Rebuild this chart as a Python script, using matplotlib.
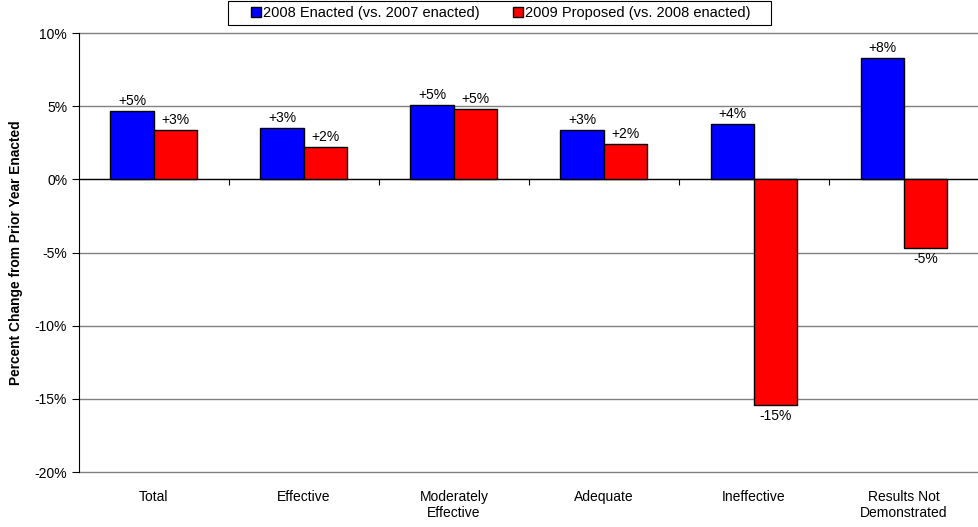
import numpy as np
import matplotlib
matplotlib.use('Agg')
import matplotlib.pyplot as plt
from matplotlib.patches import Patch, Rectangle

plt.rcParams['font.family'] = ['Liberation Sans', 'DejaVu Sans']

# data (percent change)
categories = ['Total', 'Effective', 'Moderately\nEffective', 'Adequate', 'Ineffective', 'Results Not\nDemonstrated']
enacted_2008 = [4.7, 3.5, 5.1, 3.4, 3.8, 8.3]
proposed_2009 = [3.4, 2.2, 4.8, 2.4, -15.4, -4.7]
labels_2008 = ['+5%', '+3%', '+5%', '+3%', '+4%', '+8%']
labels_2009 = ['+3%', '+2%', '+5%', '+2%', '-15%', '-5%']
series_names = ['2008 Enacted (vs. 2007 enacted)', '2009 Proposed (vs. 2008 enacted)']
yticks = [-20, -15, -10, -5, 0, 5, 10]

W, H = 979, 527
fig = plt.figure(figsize=(W / 100, H / 100), dpi=100)
ax = fig.add_axes([79 / W, 1 - 472 / H, 900 / W, 439 / H])

x = np.arange(len(categories)) + 0.5
w = 0.29

ax.set_xlim(0, len(categories))
ax.set_ylim(-20, 10)

for yv in yticks:
    ax.axhline(yv, color='#808080', lw=1, zorder=0, clip_on=False)

b1 = ax.bar(x - w / 2, enacted_2008, w, color='#0000ff', edgecolor='black', lw=1, zorder=2)
b2 = ax.bar(x + w / 2, proposed_2009, w, color='#ff0000', edgecolor='black', lw=1, zorder=2)

def put_labels(bars, vals, texts):
    for b, v, t in zip(bars, vals, texts):
        cx = b.get_x() + b.get_width() / 2
        if v >= 0:
            ax.annotate(t, (cx, v), xytext=(0, 2), textcoords='offset points',
                        ha='center', va='bottom', fontsize=10)
        else:
            ax.annotate(t, (cx, v), xytext=(0, -3), textcoords='offset points',
                        ha='center', va='top', fontsize=10)

put_labels(b1, enacted_2008, labels_2008)
put_labels(b2, proposed_2009, labels_2009)

# zero axis with category tick marks
ax.axhline(0, color='black', lw=0.9, zorder=1)
ax.spines['bottom'].set_position(('data', 0))
ax.spines['bottom'].set_visible(False)
ax.set_xticks(np.arange(1, len(categories)))
ax.set_xticklabels([])
ax.tick_params(axis='x', direction='out', length=4, width=0.8, color='black')
for s in ['top', 'right']:
    ax.spines[s].set_visible(False)
ax.spines['left'].set_color('black')
ax.spines['left'].set_zorder(3)

ax.set_yticks(yticks)
ax.set_yticklabels([f'{v}%' for v in yticks], fontsize=10)
ax.tick_params(axis='y', direction='out', length=5, width=0.8)
ax.set_ylabel('Percent Change from Prior Year Enacted', fontsize=9.9, fontweight='bold', labelpad=8)

trans = ax.get_xaxis_transform()
for xi, c in zip(x, categories):
    ax.text(xi, -0.04, c, transform=trans, ha='center', va='top', fontsize=10, linespacing=1.2)

# legend with a hand-drawn frame to get the wide padding
handles = [Patch(facecolor='#0000ff', edgecolor='black', label=series_names[0]),
           Patch(facecolor='#ff0000', edgecolor='black', label=series_names[1])]
leg = fig.legend(handles=handles, loc='center', bbox_to_anchor=(501 / W, 1 - 13 / H), ncol=2,
                 fontsize=10.5, frameon=False,
                 handlelength=0.65, handleheight=0.65, handletextpad=0.15, columnspacing=2.3,
                 borderpad=0, borderaxespad=0)
fig.patches.append(Rectangle((228 / W, 1 - 25 / H), 543 / W, 24 / H, transform=fig.transFigure,
                             facecolor='none', edgecolor='black', lw=0.8))

fig.savefig('out.png', dpi=100)
